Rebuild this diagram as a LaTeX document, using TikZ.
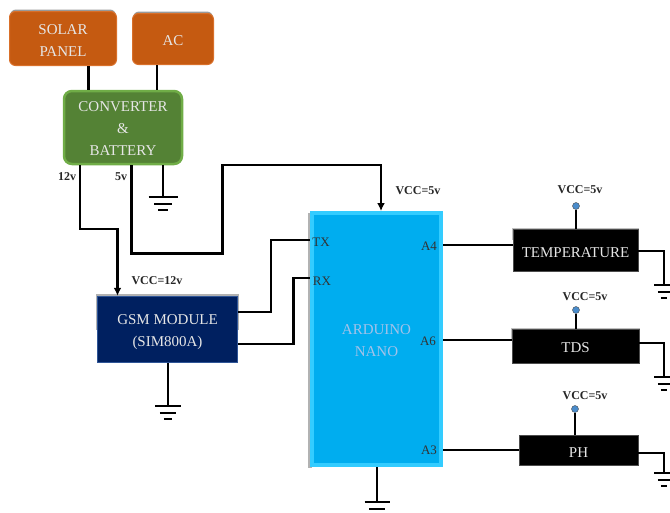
\documentclass[tikz,border=0pt]{standalone}
\usepackage{fontspec}
\setmainfont{Liberation Serif}
\usetikzlibrary{arrows.meta,calc}
\definecolor{orangefill}{HTML}{C55A11}
\definecolor{orangeedge}{HTML}{D9702A}
\definecolor{greenfill}{HTML}{548235}
\definecolor{greenedge}{HTML}{70AD47}
\definecolor{navyfill}{HTML}{002060}
\definecolor{navyedge}{HTML}{2F5597}
\definecolor{cyanfill}{HTML}{00ADEF}
\definecolor{cyanedge}{HTML}{33CCFF}
\definecolor{pindot}{HTML}{4A8CCB}
\definecolor{lighttext}{HTML}{E6E6E6}
\tikzset{
  bbox/.style={inner sep=0pt},
  boxtext/.style={align=center,inner sep=0pt,text=lighttext,font=\fontsize{15}{22}\selectfont},
  orangebox/.style={bbox,fill=orangefill,draw=orangeedge,line width=1pt,rounded corners=6pt},
  greenbox/.style={bbox,fill=greenfill,draw=greenedge,line width=2.5pt,rounded corners=8pt},
  navybox/.style={bbox,fill=navyfill,draw=navyedge,line width=1.5pt},
  cyanbox/.style={bbox,fill=cyanfill,draw=cyanedge,line width=4pt},
  blackbox/.style={bbox,fill=black,draw=black!70,line width=.5pt},
  wire/.style={draw=black,line width=2.2pt},
  arrowwire/.style={wire,-{Latex[length=8pt,width=8pt]}},
  gndbar/.style={draw=black,line width=2pt},
  powerlabel/.style={inner sep=0pt,font=\fontsize{12}{14}\selectfont\bfseries,text=black!85},
  pinlabel/.style={inner sep=0pt,font=\fontsize{13}{15}\selectfont,text=black!80},
  pindotnode/.style={circle,inner sep=0pt,minimum size=7pt,fill=pindot,draw=black!70,line width=.4pt},
}
\newcommand{\gndsym}[2]{%
  \draw[gndbar] ($(#1)+(-#2,0)$) -- ($(#1)+(#2,0)$);
  \draw[gndbar] ($(#1)+(-#2*.62,6.5)$) -- ($(#1)+(#2*.62,6.5)$);
  \draw[gndbar] ($(#1)+(-#2*.32,13)$) -- ($(#1)+(#2*.32,13)$);
}
\begin{document}
\begin{tikzpicture}[x=1pt,y=-1pt]
\useasboundingbox (0,0) rectangle (670,512);
% soft shadows
\fill[black!40,rounded corners=6pt] (10,9.5) rectangle (116,62);
\fill[black!40,rounded corners=6pt] (133,11.5) rectangle (213,60);
\fill[black!30] (96,294) rectangle (239,330);
\fill[black!30] (308,213) rectangle (312,468);
\fill[black!25] (512,227.5) rectangle (639,240);
\fill[black!25] (511,327.5) rectangle (640,340);
% boxes
\node[orangebox,minimum width=107pt,minimum height=54pt] (solar) at (63,38.5) {};
\node[orangebox,minimum width=81pt,minimum height=51pt] (ac) at (173,39) {};
\node[greenbox,minimum width=118pt,minimum height=73pt] (conv) at (123,127.5) {};
\node[navybox,minimum width=140pt,minimum height=66pt] (gsm) at (167.5,329.5) {};
\node[cyanbox,minimum width=129pt,minimum height=252pt] (nano) at (376.5,339) {};
\node[blackbox,minimum width=125pt,minimum height=42pt] (temp) at (575.5,250) {};
\node[blackbox,minimum width=127pt,minimum height=34pt] (tds) at (575.5,346) {};
\node[blackbox,minimum width=119pt,minimum height=30pt] (ph) at (578.5,450) {};
% box texts
\node[boxtext] (solartext) at (63,41) {SOLAR\\PANEL};
\node[boxtext] (actext) at (173,41) {AC};
\node[boxtext] (convtext) at (123,129) {CONVERTER\\\&\\BATTERY};
\node[boxtext] (gsmtext) at (167.5,332.5) {GSM MODULE\\(SIM800A)};
\node[boxtext,text=cyan!25!white!85!blue] (nanotext) at (376.5,341) {ARDUINO\\NANO};
\node[boxtext] (temptext) at (575.5,253) {TEMPERATURE};
\node[boxtext] (tdstext) at (575.5,348) {TDS};
\node[boxtext] (phtext) at (578.5,453) {PH};
% route coordinates
\coordinate (xsolar) at (88.5,0);
\coordinate (xac) at (157,0);
\coordinate (x12) at (80,0);
\coordinate (x5) at (131.5,0);
\coordinate (xcg) at (163,0);
\coordinate (xgsmin) at (117.5,0);
\coordinate (xnanoin) at (381,0);
\coordinate (xtx) at (271,0);
\coordinate (xrx) at (293.5,0);
\coordinate (xggnd) at (168,0);
\coordinate (xngnd) at (377,0);
\coordinate (turn12) at (117.5,229);
\coordinate (turn5a) at (131.5,253.5);
\coordinate (turn5b) at (222.5,253.5);
\coordinate (turn5c) at (222.5,165);
\coordinate (turn5d) at (381,165);
\coordinate (ytx) at (0,240);
\coordinate (yrx) at (0,278);
\coordinate (ygtx) at (0,312);
\coordinate (ygrx) at (0,344);
\coordinate (ya4) at (0,245);
\coordinate (ya6) at (0,340);
\coordinate (ya3) at (0,450);
\coordinate (gc) at (163,197);
\coordinate (gg) at (168,406);
\coordinate (gn) at (377,502);
\coordinate (gt) at (664,285);
\coordinate (gd) at (664,377);
\coordinate (gp) at (664,473);
% power
\draw[wire] (xsolar |- solar.south) -- (xsolar |- conv.north);
\draw[wire] (xac |- ac.south) -- (xac |- conv.north);
\draw[arrowwire] (x12 |- conv.south) |- (turn12) -- (xgsmin |- gsm.north);
\draw[arrowwire] (x5 |- conv.south) -- (turn5a) -- (turn5b) -- (turn5c) -- (turn5d) -- (xnanoin |- nano.north);
\draw[wire] (xcg |- conv.south) -- (gc);
\gndsym{gc}{14.5}
% gsm
\draw[wire] (gsm.east |- ygtx) -| (xtx |- ytx) -- (nano.west |- ytx);
\draw[wire] (gsm.east |- ygrx) -| (xrx |- yrx) -- (nano.west |- yrx);
\draw[wire] (xggnd |- gsm.south) -- (gg);
\gndsym{gg}{13}
\draw[wire] (xngnd |- nano.south) -- (gn);
\gndsym{gn}{12.5}
% sensors
\draw[wire] (nano.east |- ya4) -- (temp.west |- ya4);
\draw[wire] (nano.east |- ya6) -- (tds.west |- ya6);
\draw[wire] (nano.east |- ya3) -- (ph.west |- ya3);
\node[pindotnode] (dt) at (576,206) {};
\node[pindotnode] (dd) at (576,310) {};
\node[pindotnode] (dp) at (575,409) {};
\draw[wire] (dt) -- (dt |- temp.north);
\draw[wire] (dd) -- (dd |- tds.north);
\draw[wire] (dp) -- (dp |- ph.north);
\draw[wire] (temp.east |- 0,251) -| (gt);
\draw[wire] (tds.east |- 0,343) -| (gd);
\draw[wire] (ph.east |- 0,453) -| (gp);
\gndsym{gt}{10}
\gndsym{gd}{10}
\gndsym{gp}{10}
% labels
\node[powerlabel] (l12) at (67,177) {12v};
\node[powerlabel] (l5) at (121,177) {5v};
\node[powerlabel] (lg) at (157,281) {VCC=12v};
\node[powerlabel] (ln) at (418,191) {VCC=5v};
\node[powerlabel] (lt) at (580,190) {VCC=5v};
\node[powerlabel] (ld) at (585,297) {VCC=5v};
\node[powerlabel] (lp) at (585,396) {VCC=5v};
\node[pinlabel] (tx) at (321,242) {TX};
\node[pinlabel] (rx) at (322,281) {RX};
\node[pinlabel] (a4) at (429,246) {A4};
\node[pinlabel] (a6) at (428,341) {A6};
\node[pinlabel] (a3) at (429,450) {A3};
\end{tikzpicture}
\end{document}
